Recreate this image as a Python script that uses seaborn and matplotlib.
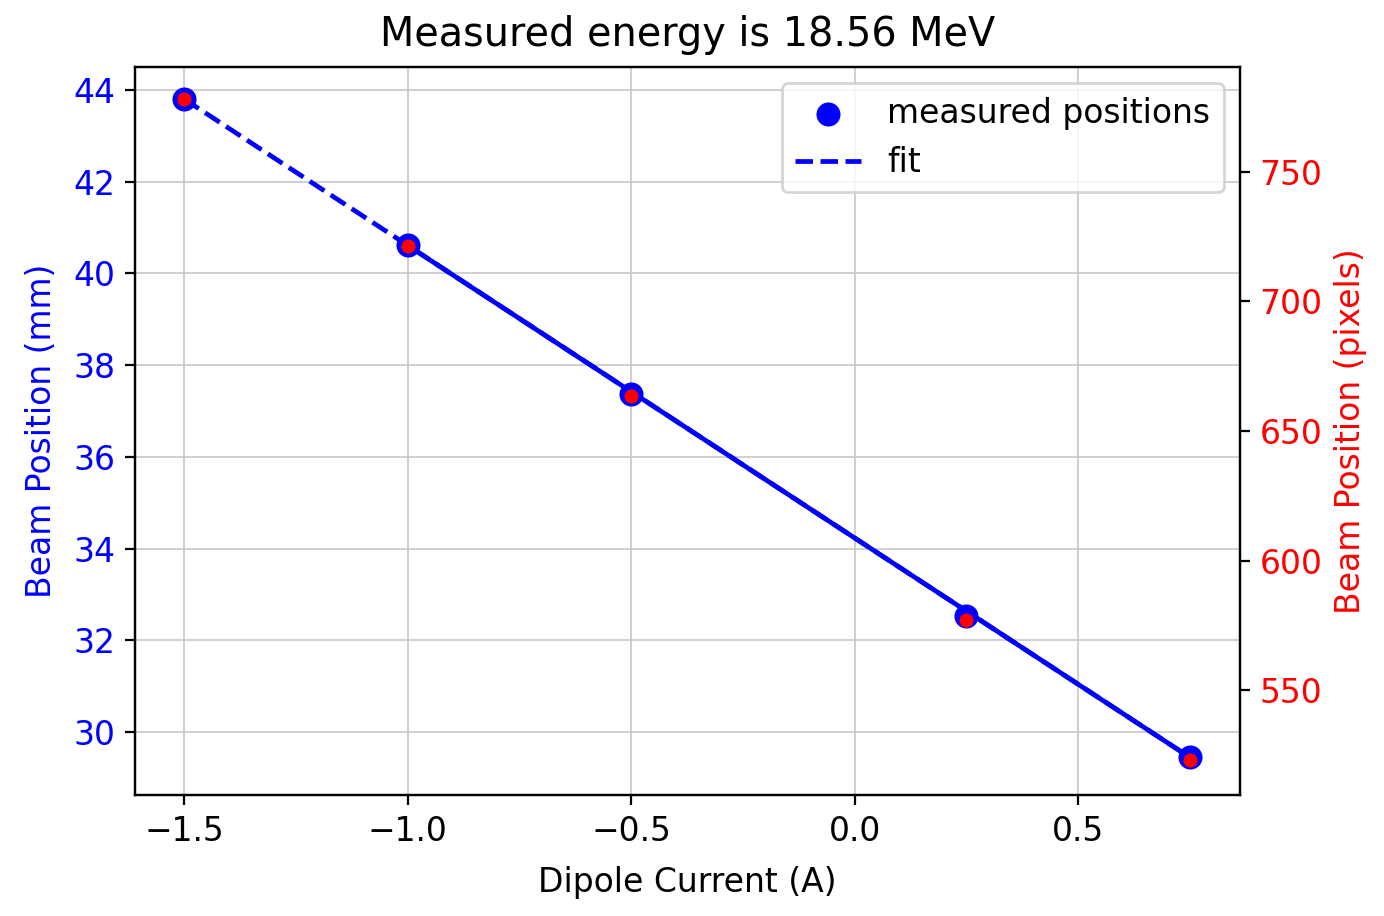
import matplotlib
matplotlib.use("Agg")
import matplotlib.pyplot as plt
import seaborn as sns
import pandas as pd

# Data
current_a = [-1.5, -1.0, -0.5, 0.25, 0.75]
position_mm = [43.80, 40.62, 37.37, 32.53, 29.46]
position_px = [778.2, 721.4, 663.5, 577.0, 523.0]
fit_x = [-1.5, 0.75]
fit_mm = [43.80, 29.45]
solid_x = [-1.0, 0.75]
solid_mm = [40.61, 29.45]
title = "Measured energy is 18.56 MeV"

plt.rcParams['font.family'] = ['DejaVu Sans']
fs = 11.9

fig = plt.figure(figsize=(6.92, 4.58), dpi=200)
ax = fig.add_axes([0.0975, 0.132, 0.7985, 0.795])

meas = pd.DataFrame({"x": current_a, "mm": position_mm, "px": position_px})
fit = pd.DataFrame({"x": fit_x, "mm": fit_mm})
solid = pd.DataFrame({"x": solid_x, "mm": solid_mm})

ax.grid(True, color="#c8c8c8", linewidth=0.6, zorder=0)
ax.set_axisbelow(True)

sns.scatterplot(data=meas, x="x", y="mm", ax=ax, color="blue", s=75,
                linewidth=0, label="measured positions", zorder=3)
sns.lineplot(data=fit, x="x", y="mm", ax=ax, color="blue", linestyle="--",
             linewidth=1.7, label="fit", zorder=2)
sns.lineplot(data=solid, x="x", y="mm", ax=ax, color="blue",
             linewidth=1.7, zorder=2.5, legend=False)

ax.set_xlim(-1.61, 0.862)
ax.set_ylim(28.63, 44.5)
ax.set_xticks([-1.5, -1.0, -0.5, 0.0, 0.5])
ax.set_yticks([30, 32, 34, 36, 38, 40, 42, 44])
ax.set_xlabel("Dipole Current (A)", fontsize=fs, labelpad=6.5)
ax.set_ylabel("Beam Position (mm)", fontsize=fs, color="blue", labelpad=5.5)
ax.tick_params(axis="y", labelcolor="blue", labelsize=fs)
ax.tick_params(axis="x", labelsize=fs)
ax.set_title(title, fontsize=14.3, pad=7.5)

ax2 = ax.twinx()
sns.scatterplot(data=meas, x="x", y="px", ax=ax2, color="red", s=26,
                linewidth=0, zorder=4, legend=False)
ax2.set_ylim(509.5, 790.5)
ax2.set_yticks([550, 600, 650, 700, 750])
ax2.set_ylabel("Beam Position (pixels)", fontsize=fs, color="red")
ax2.tick_params(axis="y", labelcolor="red", labelsize=fs)

ax.legend(loc="upper right", fontsize=fs, handlelength=2.0)

fig.savefig("out.png", dpi=200)
